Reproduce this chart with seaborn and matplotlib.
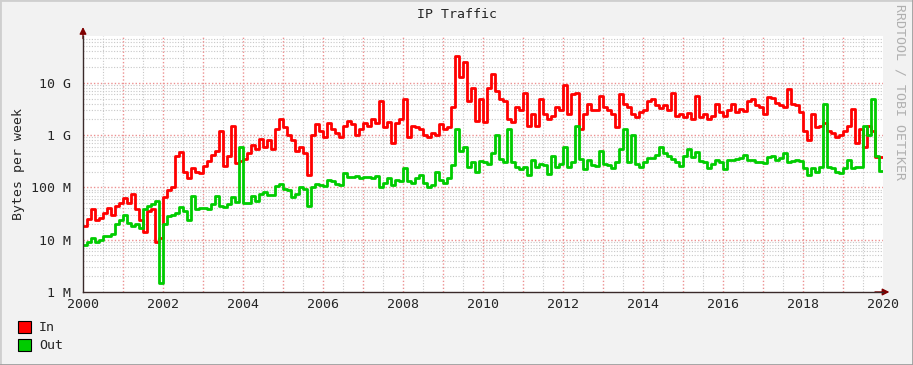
import numpy as np
import pandas as pd
import matplotlib
matplotlib.use("Agg")
import matplotlib.pyplot as plt
import matplotlib.ticker as mticker
from matplotlib.patches import Patch
from matplotlib.lines import Line2D
import seaborn as sns

# Weekly traffic, sampled every 0.1 year from 2000.0, values in MBytes per week
in_mb = [
    18, 25, 38, 24, 26, 32, 40, 30, 45, 50,
    62, 50, 75, 38, 24, 14, 36, 38, 9, 11,
    65, 90, 100, 400, 480, 200, 150, 240, 200, 190,
    260, 320, 420, 500, 1200, 260, 400, 1500, 290, 320,
    350, 450, 650, 550, 850, 600, 800, 550, 1300, 2000,
    1400, 1000, 800, 500, 600, 450, 170, 1000, 1600, 1200,
    900, 1700, 1300, 1100, 900, 1500, 1900, 1600, 1000, 1300,
    1700, 1500, 2000, 1700, 4500, 1400, 1800, 700, 1700, 2000,
    5000, 900, 1500, 1400, 1300, 1000, 900, 1100, 1000, 1600,
    1300, 1400, 3500, 33000, 13000, 25000, 4500, 8000, 1900, 5000,
    1800, 8000, 15000, 7000, 5000, 4500, 2000, 1800, 3500, 3000,
    6500, 1500, 2500, 1500, 5000, 2500, 2000, 2300, 3500, 3000,
    9000, 2500, 6000, 6500, 1300, 2500, 4000, 3000, 3000, 5500,
    3500, 3000, 2500, 1400, 6000, 4000, 3500, 2500, 2200, 2800,
    3000, 4500, 5000, 3800, 3300, 3800, 3000, 6500, 2300, 2500,
    2200, 2600, 2000, 5500, 2200, 2500, 2000, 2300, 4000, 2800,
    2300, 3000, 4000, 2800, 3200, 2900, 4500, 5000, 3800, 3500,
    2500, 5300, 5200, 4200, 3800, 3500, 7500, 4000, 3800, 2800,
    1200, 800, 2500, 1400, 1500, 1700, 1200, 1100, 900, 1000,
    1200, 1500, 3200, 700, 1300, 600, 1500, 1200, 380, 380,
]
out_mb = [
    8, 9, 11, 9, 10, 12, 12, 13, 20, 24,
    30, 21, 18, 20, 17, 38, 45, 48, 55, 1.5,
    20, 28, 30, 32, 42, 35, 24, 70, 38, 40,
    40, 38, 48, 68, 45, 42, 48, 65, 52, 600,
    50, 50, 70, 55, 75, 80, 72, 72, 105, 115,
    95, 90, 65, 75, 100, 95, 45, 100, 115, 110,
    105, 140, 130, 115, 110, 190, 160, 160, 165, 150,
    160, 155, 150, 165, 100, 120, 150, 110, 140, 130,
    230, 130, 120, 150, 170, 120, 100, 110, 200, 140,
    120, 150, 270, 1300, 500, 600, 250, 300, 200, 320,
    300, 280, 450, 1000, 350, 300, 1300, 300, 250, 220,
    250, 170, 340, 250, 280, 270, 180, 400, 250, 280,
    600, 250, 300, 1500, 350, 220, 330, 270, 260, 500,
    280, 270, 230, 300, 550, 1300, 300, 1000, 280, 250,
    300, 360, 360, 420, 600, 450, 400, 350, 300, 260,
    400, 550, 380, 470, 320, 300, 240, 280, 330, 300,
    220, 330, 330, 350, 370, 420, 330, 330, 300, 300,
    290, 380, 400, 330, 370, 450, 300, 320, 330, 320,
    230, 170, 240, 200, 250, 4000, 250, 240, 200, 190,
    230, 340, 240, 250, 250, 1500, 1000, 5000, 400, 210,
]
series_names = ["In", "Out"]
series_colors = ["#FF0000", "#00CC00"]
ytick_vals = [1e6, 1e7, 1e8, 1e9, 1e10]
ytick_labels = ["1 M", "10 M", "100 M", "1 G", "10 G"]

years = 2000 + np.arange(len(in_mb)) / 10
# repeat the last sample at 2020 so the step reaches the right edge
x = np.append(years, 2020.0)
df = pd.concat([
    pd.DataFrame({"year": x, "bytes": np.append(in_mb, in_mb[-1]) * 1e6, "dir": "In"}),
    pd.DataFrame({"year": x, "bytes": np.append(out_mb, out_mb[-1]) * 1e6, "dir": "Out"}),
])

sns.set_style("white")
plt.rcParams["font.family"] = ["DejaVu Sans Mono"]

fig = plt.figure(figsize=(9.13, 3.65), dpi=100, facecolor="#F2F2F2")
ax = fig.add_axes([83 / 913, 1 - 292 / 365, 800 / 913, 256 / 365])
ax.set_facecolor("white")

sns.lineplot(data=df, x="year", y="bytes", hue="dir", palette=series_colors,
             hue_order=series_names, estimator=None, drawstyle="steps-post",
             linewidth=2, legend=False, ax=ax, zorder=5)

ax.set_yscale("log")
ax.set_ylim(1e6, 7.85e10)
ax.set_xlim(2000, 2020)

ax.xaxis.set_major_locator(mticker.MultipleLocator(2))
ax.xaxis.set_major_formatter(mticker.FormatStrFormatter("%d"))
ax.yaxis.set_major_locator(mticker.FixedLocator(ytick_vals))
ax.yaxis.set_major_formatter(mticker.FixedFormatter(ytick_labels))
ax.yaxis.set_minor_formatter(mticker.NullFormatter())
ax.grid(False)

# grid like rrdtool: grey dotted minor lines, red dotted major lines
dots = (0, (1, 1.5))
grey = "#C8C8C8"
pink = "#EC9090"
for k in range(6, 11):
    for m in range(2, 10):
        if m * 10.0 ** k < 7.85e10:
            ax.axhline(m * 10.0 ** k, color=grey, linestyle=dots, linewidth=0.8, zorder=1)
for v in ytick_vals[1:]:
    ax.axhline(v, color=pink, linestyle=dots, linewidth=1.0, zorder=2)
for i in range(40):
    yr = 2000 + i / 2
    if i % 2:
        ax.axvline(yr, color=grey, linestyle=dots, linewidth=0.8, zorder=1)
    elif i > 0:
        ax.axvline(yr, color=pink, linestyle=dots, linewidth=1.0, zorder=2)

ax.tick_params(axis="both", which="both", length=0, labelsize=9.5)
ax.tick_params(axis="x", pad=4)
ax.tick_params(axis="y", pad=9)
ax.set_xlabel("")
ax.set_ylabel("Bytes per week", fontsize=9.5, labelpad=4)

for s in ["top", "right"]:
    ax.spines[s].set_visible(False)
for s in ["left", "bottom"]:
    ax.spines[s].set_color("#3A2A2A")
    ax.spines[s].set_linewidth(1)
    ax.spines[s].set_zorder(6)

ax.annotate("", xy=(0, 1.035), xytext=(0, 0.99), xycoords="axes fraction",
            arrowprops=dict(arrowstyle="-|>,head_width=0.2,head_length=0.4",
                            color="#7F0000", lw=1, shrinkA=0, shrinkB=0))
ax.annotate("", xy=(1.008, 0), xytext=(0.99, 0), xycoords="axes fraction",
            arrowprops=dict(arrowstyle="-|>,head_width=0.2,head_length=0.4",
                            color="#7F0000", lw=1, shrinkA=0, shrinkB=0))

fig.text(0.5, 1 - 14 / 365, "IP Traffic", ha="center", va="center", fontsize=9.5)
fig.text(900 / 913, 1 - 92 / 365, "RRDTOOL / TOBI OETIKER", rotation=270,
         ha="center", va="center", fontsize=9.5, color="#B0B0B0")

handles = [Patch(facecolor=c, edgecolor="black", linewidth=0.8) for c in series_colors]
fig.legend(handles, series_names, loc="upper left",
           bbox_to_anchor=(18 / 913, 1 - 321 / 365), frameon=False,
           handlelength=1.0, handleheight=1.0, handletextpad=0.6,
           labelspacing=0.35, borderpad=0, borderaxespad=0, fontsize=9.5)

# shaded frame around the image
fig.add_artist(Line2D([0, 1], [1, 1], transform=fig.transFigure, color="#CFCFCF", lw=2))
fig.add_artist(Line2D([0, 0], [0, 1], transform=fig.transFigure, color="#CFCFCF", lw=2))
fig.add_artist(Line2D([0, 1], [0, 0], transform=fig.transFigure, color="#9E9E9E", lw=2))
fig.add_artist(Line2D([1, 1], [0, 1], transform=fig.transFigure, color="#9E9E9E", lw=2))

fig.savefig("out.png", dpi=100, facecolor=fig.get_facecolor())
